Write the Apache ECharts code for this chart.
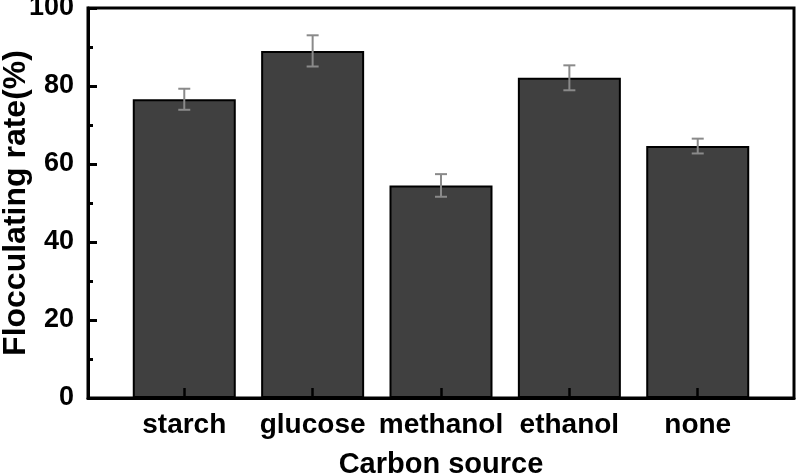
<!DOCTYPE html>
<html>
<head>
<meta charset="utf-8">
<script src="https://cdn.jsdelivr.net/npm/echarts@6/dist/echarts.min.js"></script>
<style>html,body{margin:0;padding:0;background:#fff;}#c{width:800px;height:476px;}</style>
</head>
<body>
<div id="c"></div>
<script>
const categories = ['starch', 'glucose', 'methanol', 'ethanol', 'none'];
const values = [76.6, 89.0, 54.5, 82.1, 64.6];
const errors = [2.7, 4.0, 2.9, 3.2, 1.9];
const yTicks = [0, 20, 40, 60, 80, 100];

const positions = categories.map((c, i) => i);
const barData = values.map((v, i) => [positions[i], v]);
const errData = values.map((v, i) => [positions[i], v - errors[i], v + errors[i]]);

const FONT = "'Liberation Sans', Arial, sans-serif";
const chart = echarts.init(document.getElementById('c'), null, {renderer: 'canvas'});
chart.setOption({
  animation: false,
  backgroundColor: '#fff',
  grid: {left: 88, right: 6, top: 8, bottom: 78, show: true, borderColor: '#000', borderWidth: 3,
    backgroundColor: 'transparent', containLabel: false, outerBoundsMode: 'none'},
  xAxis: {
    type: 'value', min: -0.75, max: 4.75, z: 5,
    name: 'Carbon source', nameLocation: 'middle', nameGap: 52,
    nameTextStyle: {fontFamily: FONT, fontWeight: 'bold', fontSize: 29, color: '#000'},
    splitLine: {show: false},
    axisLine: {onZero: false, lineStyle: {color: '#000', width: 3}},
    axisTick: {inside: true, length: 10, lineStyle: {color: '#000', width: 2.5}, customValues: positions},
    axisLabel: {customValues: positions, margin: 13, fontFamily: FONT, fontWeight: 'bold', fontSize: 28, color: '#000',
      formatter: v => categories[Math.round(v)] || ''}
  },
  yAxis: {
    type: 'value', min: 0, max: 100, interval: 20, z: 5,
    name: 'Flocculating rate(%)', nameLocation: 'middle', nameGap: 56, nameMoveOverlap: false,
    nameTextStyle: {fontFamily: FONT, fontWeight: 'bold', fontSize: 32, color: '#000'},
    splitLine: {show: false},
    axisLine: {onZero: false, lineStyle: {color: '#000', width: 3}},
    axisTick: {inside: true, length: 9, lineStyle: {color: '#000', width: 3}},
    minorTick: {show: true, splitNumber: 2, length: 5, lineStyle: {color: '#000', width: 3}},
    axisLabel: {margin: 14, fontFamily: FONT, fontWeight: 'bold', fontSize: 27, color: '#000',
      formatter: v => yTicks.includes(v) ? String(v) : ''}
  },
  series: [
    {
      type: 'bar', data: barData, barWidth: 103,
      itemStyle: {color: '#404040', borderColor: '#000', borderWidth: 2}
    },
    {
      type: 'custom', data: errData, z: 4,
      renderItem: function (params, api) {
        const x = api.value(0);
        const lo = api.coord([x, api.value(1)]);
        const hi = api.coord([x, api.value(2)]);
        const hw = 6;
        const st = {stroke: '#8a8a8a', lineWidth: 2};
        return {type: 'group', children: [
          {type: 'line', shape: {x1: lo[0], y1: lo[1], x2: hi[0], y2: hi[1]}, style: st},
          {type: 'line', shape: {x1: hi[0] - hw, y1: hi[1], x2: hi[0] + hw, y2: hi[1]}, style: st},
          {type: 'line', shape: {x1: lo[0] - hw, y1: lo[1], x2: lo[0] + hw, y2: lo[1]}, style: st}
        ]};
      }
    }
  ]
});
</script>
</body>
</html>
